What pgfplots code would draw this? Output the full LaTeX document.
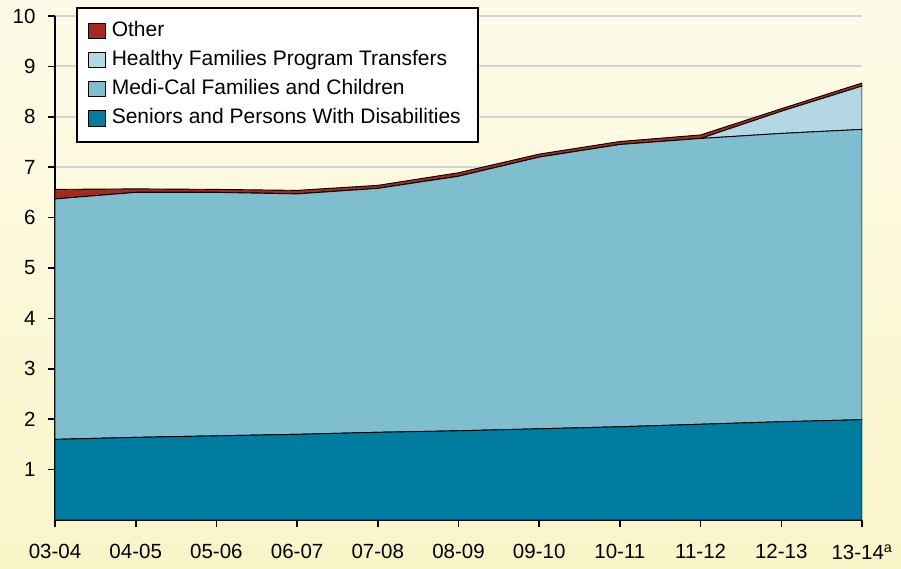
\documentclass[border=0pt]{standalone}
\usepackage{pgfplots}
\pgfplotsset{compat=1.18}
\usepackage{fontspec}
\setmainfont{Liberation Sans}
\definecolor{senior}{RGB}{0,124,161}
\definecolor{medical}{RGB}{127,190,207}
\definecolor{hf}{RGB}{179,216,227}
\definecolor{other}{RGB}{165,42,30}
\definecolor{bgtop}{RGB}{253,251,232}
\definecolor{bgbot}{RGB}{250,245,200}
\definecolor{gridc}{RGB}{212,212,212}
\begin{document}
\begin{tikzpicture}
\shade[top color=bgtop, bottom color=bgbot] (-55pt,-49pt) rectangle (846pt,520pt);
\begin{axis}[
  at={(0pt,0pt)}, anchor=south west,
  width=807pt, height=504pt, scale only axis,
  xmin=0, xmax=10, ymin=0, ymax=10,
  axis lines*=left,
  axis line style={black, line width=2pt},
  stack plots=y,
  area style,
  axis on top=false,
  xtick={0,...,10},
  xticklabels={03-04,04-05,05-06,06-07,07-08,08-09,09-10,10-11,11-12,12-13,13-14\textsuperscript{a}},
  ytick={1,...,10},
  tick align=outside,
  major tick length=7pt,
  tick style={black, line width=1.6pt},
  ymajorgrids,
  grid style={gridc, line width=1.8pt},
  xticklabel style={font=\fontsize{20.5}{24}\selectfont, yshift=-14pt},
  yticklabel style={font=\fontsize{20.5}{24}\selectfont, xshift=-9pt},
  /pgf/number format/assume math mode=true,
  reverse legend,
  legend cell align=left,
  legend image code/.code={\draw[#1, draw=black, line width=1pt] (0pt,-7.5pt) rectangle (17pt,8pt);},
  legend style={at={(0.026,1.018)}, anchor=north west, draw=black, line width=1.6pt, fill=white,
    font=\fontsize{21}{24}\selectfont, inner xsep=11pt, inner ysep=9pt,
    nodes={text height=15pt, text depth=4.5pt, inner ysep=4.8pt, inner xsep=6pt}},
]
\addplot[fill=senior, draw=black, line width=0.9pt] coordinates {
(0,1.60) (1,1.64) (2,1.67) (3,1.70) (4,1.74) (5,1.77) (6,1.81) (7,1.85) (8,1.90) (9,1.95) (10,1.99)} \closedcycle;
\addplot[fill=medical, draw=black, line width=0.9pt] coordinates {
(0,4.77) (1,4.86) (2,4.83) (3,4.77) (4,4.84) (5,5.05) (6,5.39) (7,5.60) (8,5.67) (9,5.72) (10,5.76)} \closedcycle;
\addplot[fill=hf, draw=black, line width=0.9pt] coordinates {
(0,0) (1,0) (2,0) (3,0) (4,0) (5,0) (6,0) (7,0) (8,0) (9,0.44) (10,0.86)} \closedcycle;
\addplot[fill=other, draw=black, line width=0.9pt] coordinates {
(0,0.19) (1,0.07) (2,0.06) (3,0.07) (4,0.06) (5,0.07) (6,0.06) (7,0.06) (8,0.07) (9,0.05) (10,0.06)} \closedcycle;
\legend{Seniors and Persons With Disabilities, Medi-Cal Families and Children, Healthy Families Program Transfers, Other}
\draw[black, line width=2pt] (axis cs:0,10) -- (axis cs:0,0) -- (axis cs:10,0);
\end{axis}
\end{tikzpicture}
\end{document}
